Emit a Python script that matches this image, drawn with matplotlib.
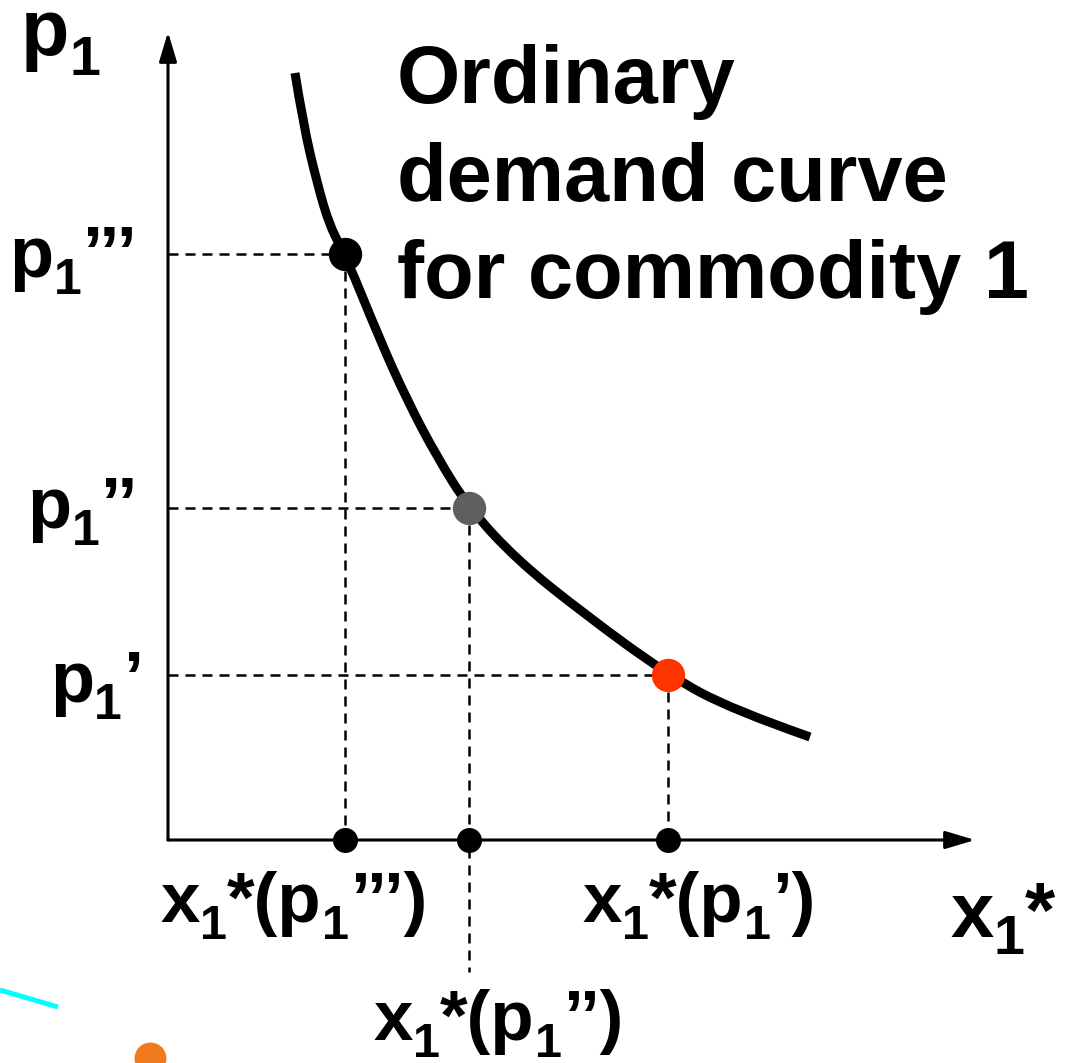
import matplotlib
matplotlib.use("Agg")
import matplotlib.pyplot as plt
from matplotlib.path import Path
import matplotlib.patches as mpatches

plt.rcParams['font.family'] = 'Liberation Sans'
plt.rcParams['font.weight'] = 'bold'

# -- demand curve (quantity x1, price p1)
curve_x = [1.27, 1.35, 1.49, 1.62, 1.77, 2.12, 2.39, 2.69, 3.01, 3.49, 4.15, 5.00, 5.65, 6.42]
curve_p = [7.67, 7.17, 6.57, 6.13, 5.86, 5.00, 4.40, 3.83, 3.32, 2.80, 2.27, 1.65, 1.30, 1.03]

# -- the three marked prices and demanded quantities
x_star = [1.77, 3.01, 5.00]
p_vals = [5.86, 3.32, 1.65]
dot_colors = ['black', '#5f5f5f', '#ff3300']
primes = ['’’’', '’’', '’']

fig = plt.figure(figsize=(10.77, 10.63), dpi=100)
ax = fig.add_axes([0, 0, 1, 1])
ax.set_xlim(-1.68, 9.09)
ax.set_ylim(-2.23, 8.40)
ax.axis('off')
renderer = fig.canvas.get_renderer()


def label(x, y, pieces, anchor='left'):
    """pieces: (text, fontsize, dy_px, kern_px); x,y = anchor point on baseline"""
    arts = []
    cur = x
    for txt, size, dy, kern in pieces:
        cur += kern / 100.0
        t = ax.text(cur, y + dy / 100.0, txt, fontsize=size, fontweight='bold',
                    ha='left', va='baseline')
        cur += t.get_window_extent(renderer).width / 100.0
        arts.append(t)
    if anchor == 'right':
        shift = cur - x
        for t in arts:
            px, py = t.get_position()
            t.set_position((px - shift, py))


# -- axes with arrows
arrow = dict(arrowstyle='-|>,head_length=0.9,head_width=0.27', lw=2.2, color='black',
             shrinkA=0, shrinkB=0, mutation_scale=20)
ax.annotate('', xy=(0, 8.08), xytext=(0, 0), arrowprops=arrow)
ax.annotate('', xy=(8.07, 0), xytext=(0, 0), arrowprops=arrow)

# -- dashed guide lines
dash = dict(color='black', lw=1.8, dashes=(4, 2.8))
for i, (xs, ps) in enumerate(zip(x_star, p_vals)):
    ax.plot([0, xs], [ps, ps], **dash)
    bottom = -1.32 if i == 1 else 0
    ax.plot([xs, xs], [ps, bottom], **dash)

# -- demand curve, smoothed with quadratic bezier segments through the read points
pts = list(zip(curve_x, curve_p))
verts = [pts[0]]
codes = [Path.MOVETO]
for i in range(1, len(pts) - 2):
    mid = ((pts[i][0] + pts[i + 1][0]) / 2, (pts[i][1] + pts[i + 1][1]) / 2)
    verts += [pts[i], mid]
    codes += [Path.CURVE3, Path.CURVE3]
verts += [pts[-2], pts[-1]]
codes += [Path.CURVE3, Path.CURVE3]
ax.add_patch(mpatches.PathPatch(Path(verts, codes), facecolor='none', edgecolor='black',
                                lw=6.5, capstyle='butt', zorder=3))

# -- points on the curve and on the axis
for xs, ps, c in zip(x_star, p_vals, dot_colors):
    ax.plot(xs, ps, 'o', ms=24, color=c, mec='none', zorder=5)
    ax.plot(xs, 0, 'o', ms=18, color='black', mec='none', zorder=5)

# -- axis titles
label(1.00 - 1.68, 8.40 - 0.55, [('p', 57, 0, 0), ('1', 40, -20, 0)], anchor='right')
label(10.55 - 1.68, 8.40 - 9.37, [('x', 56, 0, 0), ('1', 40, -17, 0), ('*', 56, 0, 0)],
      anchor='right')

# -- price labels
p_right = [1.37, 1.38, 1.43]
p_base = [2.77, 5.28, 7.02]
for pr, px_, pb in zip(primes, p_right, p_base):
    label(px_ - 1.68, 8.40 - pb, [('p', 52, 0, 0), ('1', 36, -17, 0), (pr, 52, 0, 1)],
          anchor='right')

# -- quantity labels
x_right = [4.27, 6.23, 8.15]
x_base = [9.22, 10.40, 9.22]
x_order = [0, 1, 2]
for k, xr, xb in zip(x_order, x_right, x_base):
    label(xr - 1.68, 8.40 - xb,
          [('x', 51, 0, 0), ('1', 35, -17, 0), ('*(p', 51, 0, 0), ('1', 35, -17, 0),
           (primes[k] + ')', 51, 0, 1)], anchor='right')

# -- annotation text
title_lines = ['Ordinary', 'demand curve', 'for commodity 1']
for k, line in enumerate(title_lines):
    ax.text(2.29, 7.37 - k * 0.975, line, fontsize=58.5, fontweight='bold',
            ha='left', va='baseline')

# -- stray marks at the bottom left of the slide
ax.plot([-1.68, -1.10], [-1.50, -1.67], color='#00ffff', lw=3.6, solid_capstyle='butt')
ax.plot(-0.18, -2.18, 'o', ms=23, color='#f07a1e', mec='none', clip_on=False)

fig.savefig('out.png', dpi=100)
